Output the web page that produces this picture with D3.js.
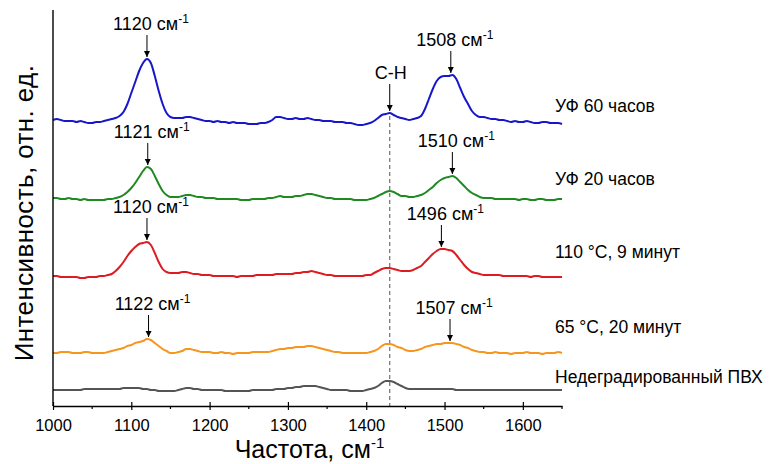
<!DOCTYPE html>
<html>
<head>
<meta charset="utf-8">
<script src="https://cdn.jsdelivr.net/npm/d3@7/dist/d3.min.js"></script>
<style>
  body { margin: 0; background: #fff; }
  svg text { font-family: "Liberation Sans", Arial, sans-serif; fill: #000; }
</style>
</head>
<body>
<svg id="chart" width="770" height="464"></svg>
<script>
// Raman spectra of PVC samples, wavenumber grid 1000–1650 cm-1, step 5
const wavenumbers = d3.range(1000, 1651, 5);

const sampleNames = ["УФ 60 часов", "УФ 20 часов", "110 °C, 9 минут", "65 °C, 20 минут", "Недеградированный ПВХ"];
// vertical stacking offsets of the spectra (rel. units)
const offsets = [284, 207, 130, 53, 16];

const uv60 = [
  2,3,2,1,1,1,0,1,0,-1,
  -1,0,0,1,2,3,4,6,10,18,
  29,40,51,59,63,59,46,31,18,9,
  5,4,4,4,5,5,4,3,2,1,
  1,0,1,0,0,-1,0,-1,-1,-1,
  -2,-2,-2,-1,-1,0,2,5,5,4,
  3,3,4,3,3,4,3,2,2,1,
  1,1,0,0,0,-1,-1,-2,-3,-3,
  -2,-1,1,4,7,8,9,7,5,4,
  3,2,3,4,6,13,23,33,41,45,
  46,46,47,43,34,25,18,11,7,5,
  5,4,3,3,2,2,1,0,1,0,
  0,1,0,-1,-1,0,0,-1,-1,-1,
  -2
];
const uv20 = [
  1,1,0,0,1,0,0,-1,0,-1,
  -1,-1,-1,-1,0,0,1,2,4,7,
  11,16,22,28,32,30,23,15,8,4,
  2,2,2,3,4,4,3,2,2,1,
  1,1,0,0,0,0,0,0,-1,-1,
  -1,0,0,0,0,1,1,2,3,2,
  2,2,3,3,4,5,5,4,3,2,
  1,1,0,0,0,0,0,-1,-1,-1,
  -1,0,1,3,5,7,8,7,5,3,
  3,2,2,3,4,6,9,12,16,19,
  21,22,23,21,17,13,9,6,4,2,
  1,1,1,0,0,0,0,0,0,-1,
  0,0,-1,-1,0,0,-1,-1,-1,0,
  0
];
const heat110 = [
  0,0,-1,-1,-1,-1,-1,-2,-2,-1,
  -1,-1,0,0,1,2,5,9,14,20,
  25,29,32,33,34,31,23,14,7,4,
  3,3,3,4,4,3,2,2,1,1,
  1,0,0,0,0,0,0,-1,0,0,
  0,0,1,1,1,1,1,2,2,2,
  2,2,3,3,4,4,5,4,3,2,
  1,1,0,0,0,0,0,0,0,0,
  1,1,3,5,7,8,8,7,6,5,
  5,5,6,8,10,14,18,22,25,27,
  27,26,25,21,16,11,7,4,3,2,
  1,1,1,1,1,0,0,0,0,0,
  0,0,-1,0,0,-1,-1,-1,-1,-1,
  -1
];
const heat65 = [
  0,0,1,1,1,0,0,0,1,1,
  0,0,0,0,1,2,3,4,5,7,
  8,10,11,12,14,13,10,7,4,2,
  0,0,1,2,4,4,3,2,1,1,
  1,0,0,1,0,0,-1,0,0,0,
  0,1,1,1,1,1,2,3,4,4,
  5,5,6,6,6,7,7,6,5,4,
  3,2,1,1,0,0,0,0,0,0,
  0,1,2,4,7,9,9,8,6,5,
  3,2,2,3,4,6,7,8,9,9,
  10,10,10,9,8,6,5,3,2,1,
  1,0,0,1,0,0,0,-1,0,0,
  0,1,0,0,0,-1,0,0,0,1,
  0
];
const pristine = [
  0,0,0,0,0,0,0,0,1,1,
  1,1,1,1,1,1,1,1,2,2,
  2,2,2,1,1,0,0,-1,-1,-1,
  -1,-1,0,1,2,2,1,1,0,0,
  0,0,0,0,-1,-1,-1,-1,-1,-1,
  -1,0,0,0,0,0,0,1,1,1,
  2,2,3,3,4,4,4,4,3,2,
  1,0,0,0,0,0,-1,-1,-1,-1,
  0,1,2,4,7,9,9,8,6,4,
  2,1,1,1,1,1,1,1,1,1,
  1,1,1,0,0,0,0,0,0,0,
  0,0,0,0,0,0,0,0,0,0,
  0,0,0,0,0,0,0,0,0,0,
  0
];
const spectra = [uv60, uv20, heat110, heat65, pristine];

// labelled band maxima: spectrum index, wavenumber
const peakSeries = [0, 0, 1, 1, 2, 2, 3, 3];
const peakWavenumbers = [1120, 1508, 1121, 1510, 1120, 1496, 1122, 1507];
const chBand = 1430;

const xTicks = [1000, 1100, 1200, 1300, 1400, 1500, 1600];
const xMinorTicks = [1050, 1150, 1250, 1350, 1450, 1550, 1650];

// ---- layout & style ----
const colors = ["#1717c9", "#208a22", "#dd1c22", "#f7961f", "#555555"];
const labelLift = [10, 14, 18, 20, 7];
const svg = d3.select("#chart");
const x = d3.scaleLinear().domain([1000, 1650]).range([53, 562]);
const y = d3.scaleLinear().domain([0, 396]).range([406, 10]);

const defs = svg.append("defs");
defs.append("marker")
  .attr("id", "head").attr("viewBox", "0 0 10 10")
  .attr("refX", 10).attr("refY", 5)
  .attr("markerWidth", 6).attr("markerHeight", 7)
  .attr("markerUnits", "userSpaceOnUse")
  .attr("orient", "auto")
  .append("path").attr("d", "M0,0 L10,5 L0,10 Z").attr("fill", "#000");

// C–H reference line
const chIdx = wavenumbers.indexOf(chBand);
const chTop = y(offsets[0] + uv60[chIdx]);
svg.append("line")
  .attr("x1", x(chBand)).attr("x2", x(chBand))
  .attr("y1", chTop + 3).attr("y2", y(0))
  .attr("stroke", "#707070").attr("stroke-width", 1.2)
  .attr("stroke-dasharray", "4,3");

// spectra
const line = d3.line().curve(d3.curveMonotoneX);
spectra.forEach((vals, s) => {
  const pts = vals.map((v, i) => [x(wavenumbers[i]), y(offsets[s] + v)]);
  svg.append("path")
    .attr("d", line(pts))
    .attr("fill", "none")
    .attr("stroke", colors[s])
    .attr("stroke-width", 2)
    .attr("stroke-linejoin", "round");
  svg.append("text")
    .attr("x", x(1650) - 7)
    .attr("y", y(offsets[s]) - labelLift[s])
    .attr("font-size", 17.5)
    .text(sampleNames[s]);
});

// axes
const gx = svg.append("g").attr("transform", `translate(0,${y(0)})`);
gx.call(d3.axisBottom(x).tickValues(xTicks).tickSize(4).tickSizeOuter(0).tickPadding(9)
  .tickFormat(d3.format("d")));
gx.selectAll(".tick line").attr("y1", -4).attr("stroke-width", 1.2);
gx.selectAll(".tick text").attr("font-size", 16.5).attr("font-family", "Liberation Sans, Arial, sans-serif").attr("fill", "#000");
gx.select(".domain").attr("stroke-width", 1.4);
gx.selectAll(".minor").data(xMinorTicks).enter().append("line")
  .attr("class", "minor")
  .attr("x1", d => x(d)).attr("x2", d => x(d))
  .attr("y1", 0).attr("y2", 3).attr("stroke", "#000").attr("stroke-width", 1.2);

svg.append("line")
  .attr("x1", x(1000)).attr("x2", x(1000))
  .attr("y1", 10).attr("y2", y(0))
  .attr("stroke", "#000").attr("stroke-width", 1.4);

// axis titles
const xt = svg.append("text")
  .attr("x", (x(1000) + x(1650)) / 2 + 2).attr("y", 458)
  .attr("text-anchor", "middle").attr("font-size", 25);
xt.append("tspan").text("Частота, см");
xt.append("tspan").attr("font-size", 15).attr("dy", -10).text("-1");

svg.append("text")
  .attr("transform", `translate(33,${(10 + y(0)) / 2 + 5}) rotate(-90)`)
  .attr("text-anchor", "middle").attr("font-size", 26)
  .attr("letter-spacing", 0.4)
  .text("Интенсивность, отн. ед.");

// band annotations with arrows
function bandTop(s, wn) {
  let best = -Infinity;
  wavenumbers.forEach((w, i) => {
    if (Math.abs(w - wn) <= 7) best = Math.max(best, spectra[s][i]);
  });
  return y(offsets[s] + best);
}
function annotate(xp, tipY, gap, parts, textX) {
  const base = tipY - gap;
  svg.append("line")
    .attr("x1", xp).attr("x2", xp)
    .attr("y1", base + 5).attr("y2", tipY)
    .attr("stroke", "#000").attr("stroke-width", 1)
    .attr("marker-end", "url(#head)");
  const t = svg.append("text")
    .attr("x", textX).attr("y", base)
    .attr("text-anchor", "middle").attr("font-size", 18);
  t.append("tspan").text(parts[0]);
  if (parts[1]) t.append("tspan").attr("font-size", 12).attr("dy", -7).text(parts[1]);
}
peakWavenumbers.forEach((wn, k) => {
  const s = peakSeries[k];
  annotate(x(wn), bandTop(s, wn) - 2, 27, [wn + " см", "-1"], x(wn) + 4);
});
annotate(x(chBand), chTop - 2, 32, ["C-H"], x(chBand) + 1);
</script>
</body>
</html>
